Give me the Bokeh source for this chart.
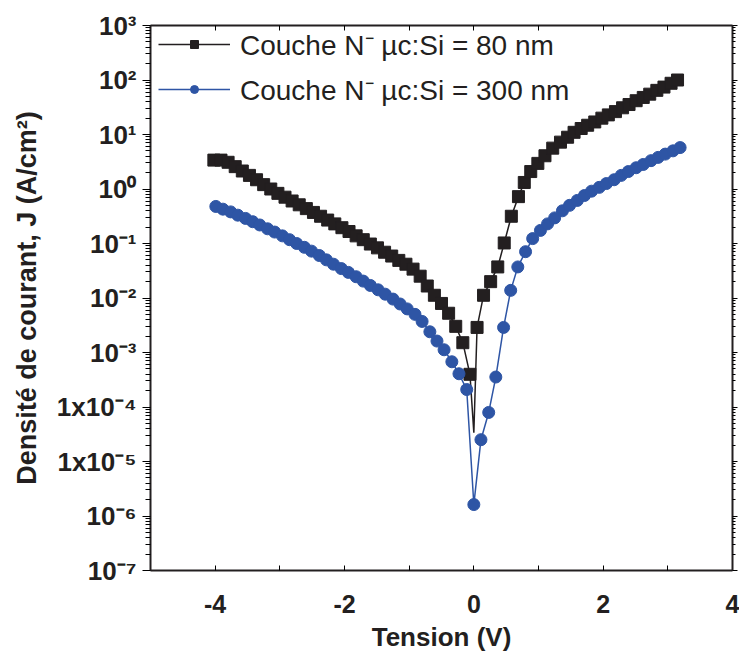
from bokeh.plotting import figure
from bokeh.models import (Range1d, LinearAxis, LogAxis, FixedTicker, CustomJSTickFormatter)
from bokeh.embed import file_html
from bokeh.resources import INLINE

# ---- data (V in volts, log10 of J in A/cm2) ----
v_80_left = [-4.02, -3.91, -3.80, -3.69, -3.58, -3.47, -3.36, -3.25, -3.14, -3.03,
             -2.92, -2.81, -2.70, -2.59, -2.48, -2.37, -2.26, -2.15, -2.04, -1.93,
             -1.82, -1.71, -1.60, -1.49, -1.38, -1.27, -1.16, -1.05, -0.94, -0.83,
             -0.72, -0.61, -0.50, -0.39, -0.28, -0.17, -0.06]
logj_80_left = [0.53, 0.53, 0.49, 0.41, 0.33, 0.25, 0.17, 0.08, 0.00, -0.08,
                -0.15, -0.22, -0.29, -0.36, -0.43, -0.50, -0.57, -0.64, -0.71, -0.78,
                -0.86, -0.93, -1.01, -1.08, -1.16, -1.23, -1.31, -1.38, -1.47, -1.60,
                -1.78, -1.95, -2.10, -2.28, -2.52, -2.82, -3.40]
v_80_zero = [0.0]
logj_80_zero = [-4.47]
v_80_right = [0.05, 0.15, 0.26, 0.37, 0.47, 0.58, 0.69, 0.78, 0.88, 0.99,
              1.10, 1.22, 1.34, 1.45, 1.55, 1.66, 1.76, 1.87, 1.98, 2.08,
              2.19, 2.30, 2.40, 2.51, 2.62, 2.72, 2.83, 2.94, 3.05, 3.15]
logj_80_right = [-2.54, -1.95, -1.70, -1.43, -0.99, -0.50, -0.14, 0.12, 0.32, 0.47,
                 0.61, 0.75, 0.86, 0.95, 1.04, 1.11, 1.17, 1.23, 1.30, 1.36,
                 1.42, 1.49, 1.55, 1.62, 1.68, 1.74, 1.81, 1.87, 1.94, 2.00]

v_300 = [-3.99, -3.88, -3.76, -3.65, -3.53, -3.42, -3.31, -3.19, -3.08, -2.96,
         -2.85, -2.74, -2.62, -2.51, -2.39, -2.28, -2.17, -2.05, -1.94, -1.82,
         -1.71, -1.60, -1.48, -1.37, -1.25, -1.14, -1.03, -0.91, -0.80, -0.68,
         -0.57, -0.46, -0.34, -0.23, -0.11, 0.00,
         0.11, 0.23, 0.34, 0.46, 0.57, 0.68, 0.80, 0.91, 1.03, 1.14,
         1.25, 1.37, 1.48, 1.60, 1.71, 1.82, 1.94, 2.05, 2.17, 2.28,
         2.39, 2.51, 2.62, 2.74, 2.85, 2.96, 3.08, 3.19]
logj_300 = [-0.32, -0.37, -0.42, -0.48, -0.54, -0.60, -0.66, -0.73, -0.79, -0.86,
            -0.93, -1.00, -1.07, -1.14, -1.22, -1.30, -1.38, -1.46, -1.53, -1.61,
            -1.69, -1.77, -1.85, -1.93, -2.02, -2.11, -2.20, -2.30, -2.43, -2.62,
            -2.79, -2.95, -3.17, -3.39, -3.68, -5.79,
            -4.60, -4.10, -3.45, -2.54, -1.86, -1.43, -1.15, -0.91, -0.76, -0.64,
            -0.53, -0.40, -0.30, -0.21, -0.12, -0.04, 0.03, 0.10, 0.17, 0.25,
            0.32, 0.39, 0.45, 0.52, 0.58, 0.64, 0.70, 0.76]

y_decades = [1e-7, 1e-6, 1e-5, 1e-4, 1e-3, 1e-2, 1e-1, 1e0, 1e1, 1e2, 1e3]
x_ticks = [-4, -2, 0, 2, 4]
x_minor = [-5, -3, -1, 1, 3]

label_80 = "Couche N\u207b \u00b5c:Si = 80 nm"
label_300 = "Couche N\u207b \u00b5c:Si = 300 nm"

BLACK = "#231f20"
BLUE = "#2e55a5"
FONT = "Liberation Sans"

v_80 = v_80_left + v_80_right
j_80 = [10 ** l for l in logj_80_left + logj_80_right]
v_80_line = v_80_left + v_80_zero + v_80_right
j_80_line = [10 ** l for l in logj_80_left + logj_80_zero + logj_80_right]
j_300 = [10 ** l for l in logj_300]

y_minor = [k * d for d in y_decades[:-1] for k in range(2, 10)]

p = figure(frame_width=582, frame_height=545,
           x_range=Range1d(-5, 4), y_range=Range1d(1e-7, 1e3),
           y_axis_type="log", output_backend="svg", toolbar_location=None,
           min_border_left=150, min_border_right=7, min_border_top=25,
           min_border_bottom=78)
p.xgrid.visible = False
p.ygrid.visible = False
p.outline_line_color = None

p.line(v_80_line, j_80_line, line_color=BLACK, line_width=1.5, legend_label=label_80)
p.scatter(v_80, j_80, marker="square", size=12, fill_color=BLACK, line_color=BLACK,
          legend_label=label_80)
p.line(v_300, j_300, line_color=BLUE, line_width=1.5, legend_label=label_300)
p.scatter(v_300, j_300, marker="circle", size=12, fill_color=BLUE, line_color=BLUE,
          legend_label=label_300)

plain = CustomJSTickFormatter(code="return String(tick);")

xa = p.xaxis[0]
xa.ticker = FixedTicker(ticks=x_ticks, minor_ticks=x_minor)
xa.formatter = plain
xa.axis_label = "Tension (V)"
xa.axis_label_text_font = FONT
xa.axis_label_text_font_style = "bold"
xa.axis_label_text_font_size = "26px"
xa.axis_label_text_color = BLACK
xa.axis_label_standoff = 6
xa.major_label_text_font = FONT
xa.major_label_text_font_style = "bold"
xa.major_label_text_font_size = "25px"
xa.major_label_text_color = BLACK
xa.major_label_standoff = 24
xa.major_tick_in = 5
xa.major_tick_out = 0
xa.minor_tick_in = 5
xa.minor_tick_out = 0
xa.axis_line_width = 2
xa.axis_line_color = BLACK

fmt = CustomJSTickFormatter(code="""
const e = Math.round(Math.log10(tick));
const sup = {'-':'\u207b','0':'\u2070','1':'\u00b9','2':'\u00b2','3':'\u00b3','4':'\u2074',
             '5':'\u2075','6':'\u2076','7':'\u2077','8':'\u2078','9':'\u2079'};
const s = String(e).split('').map(c => sup[c]).join('');
const pre = (e == -4 || e == -5) ? '1x10' : '10';
return pre + s;
""")
ya = p.yaxis[0]
ya.ticker = FixedTicker(ticks=y_decades, minor_ticks=y_minor)
ya.formatter = fmt
ya.axis_label = "Densit\u00e9 de courant, J (A/cm\u00b2)"
ya.axis_label_text_font = FONT
ya.axis_label_text_font_style = "bold"
ya.axis_label_text_font_size = "27px"
ya.axis_label_text_color = BLACK
ya.axis_label_standoff = 12
ya.major_label_text_font = FONT
ya.major_label_text_font_style = "bold"
ya.major_label_text_font_size = "26px"
ya.major_label_text_color = BLACK
ya.major_label_standoff = 6
ya.major_tick_in = 0
ya.major_tick_out = 8
ya.minor_tick_in = 0
ya.minor_tick_out = 5
ya.axis_line_width = 2
ya.axis_line_color = BLACK

empty = CustomJSTickFormatter(code="return '';")

top = LinearAxis(ticker=FixedTicker(ticks=x_ticks, minor_ticks=x_minor), formatter=empty,
                 major_tick_in=5, major_tick_out=0, minor_tick_in=5, minor_tick_out=0,
                 axis_line_width=2, axis_line_color=BLACK, major_label_text_font_size="1px")
p.add_layout(top, "above")
right = LogAxis(ticker=FixedTicker(ticks=y_decades, minor_ticks=y_minor), formatter=empty,
                major_tick_in=0, major_tick_out=5, minor_tick_in=0, minor_tick_out=3,
                axis_line_width=2, axis_line_color=BLACK, major_label_text_font_size="1px")
p.add_layout(right, "right")

lg = p.legend[0]
lg.location = (8, 462)
lg.border_line_color = None
lg.background_fill_alpha = 0
lg.label_text_font = FONT
lg.label_text_font_size = "28px"
lg.label_text_color = BLACK
lg.glyph_width = 72
lg.glyph_height = 20
lg.spacing = 7
lg.padding = 4
lg.margin = 0
lg.label_standoff = 10

open("out.html", "w").write(file_html(p, INLINE))
